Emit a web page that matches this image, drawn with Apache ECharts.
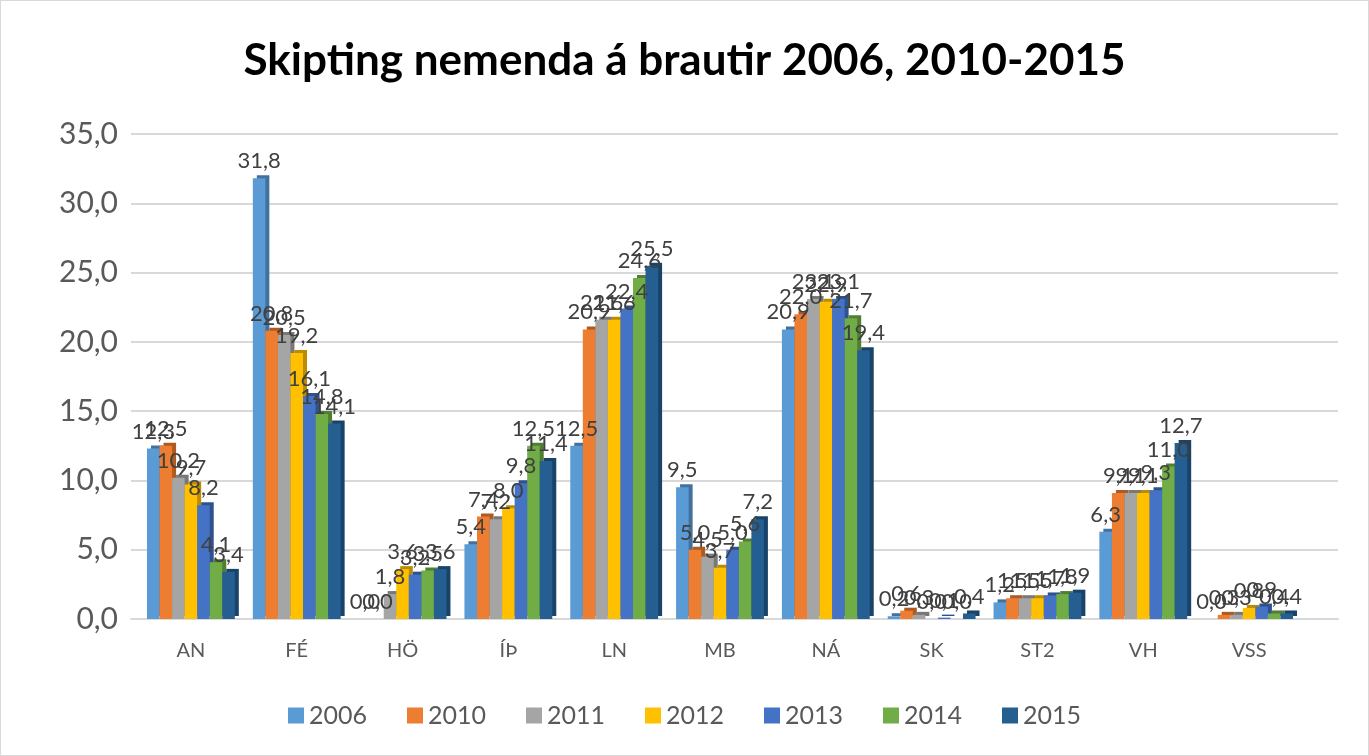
<!DOCTYPE html>
<html>
<head>
<meta charset="utf-8">
<script src="https://cdn.jsdelivr.net/npm/echarts@6/dist/echarts.min.js"></script>
<style>
  body { margin: 0; background: #fff; }
  #chart { width: 1367px; height: 754px; border: 1px solid #d9d9d9; }
</style>
</head>
<body>
<div id="chart"></div>
<script>
var categories = ["AN", "FÉ", "HÖ", "ÍÞ", "LN", "MB", "NÁ", "SK", "ST2", "VH", "VSS"];
var years = ["2006", "2010", "2011", "2012", "2013", "2014", "2015"];
var y2006 = [12.3, 31.8, 0.0, 5.4, 12.5, 9.5, 20.9, 0.2, 1.2, 6.3, 0.0];
var y2010 = [12.5, 20.8, 0.0, 7.4, 20.9, 5.0, 22.0, 0.6, 1.5, 9.1, 0.3];
var y2011 = [10.2, 20.5, 1.8, 7.2, 21.6, 4.5, 23.1, 0.3, 1.5, 9.1, 0.3];
var y2012 = [9.7, 19.2, 3.6, 8.0, 21.6, 3.7, 22.9, 0.0, 1.5, 9.1, 0.8];
var y2013 = [8.2, 16.1, 3.2, 9.8, 22.4, 5.0, 23.1, 0.1, 1.7, 9.3, 0.9];
var y2014 = [4.1, 14.8, 3.5, 12.5, 24.6, 5.6, 21.7, 0.0, 1.8, 11.0, 0.4];
var y2015 = [3.4, 14.1, 3.6, 11.4, 25.5, 7.2, 19.4, 0.4, 1.9, 12.7, 0.4];
var yTicks = [0, 5, 10, 15, 20, 25, 30, 35];

var seriesValues = [y2006, y2010, y2011, y2012, y2013, y2014, y2015];
var colors = ["#5B9BD5", "#ED7D31", "#A5A5A5", "#FFC000", "#4472C4", "#70AD47", "#255E91"];
var sideColors = ["#41719C", "#AE5A21", "#787878", "#BC8C00", "#2F528F", "#507E32", "#1A4369"];

function fmt(v) {
  return v.toFixed(1).replace(".", ",");
}

var series = years.map(function (y, i) {
  return {
    name: y,
    type: "bar",
    data: seriesValues[i],
    barGap: "0%",
    barCategoryGap: "17%",
    z: 3,
    itemStyle: {
      color: colors[i],
      shadowColor: sideColors[i],
      shadowBlur: 0,
      shadowOffsetX: 4,
      shadowOffsetY: -3
    },
    label: {
      show: true,
      position: "top",
      distance: 6,
      color: "#404040",
      fontSize: 22,
      fontFamily: "Lato",
      formatter: function (p) { return fmt(p.value); }
    }
  };
});

var myChart = echarts.init(document.getElementById("chart"));
var option = {
  animation: false,
  color: colors,
  title: {
    text: "Skipting nemenda á brautir 2006, 2010-2015",
    left: "center",
    top: 33,
    textStyle: {
      fontFamily: "Lato",
      fontWeight: "bold",
      fontSize: 44,
      color: "#000"
    }
  },
  legend: {
    data: years,
    bottom: 22,
    left: "center",
    itemWidth: 16,
    itemHeight: 16,
    itemGap: 40,
    icon: "rect",
    textStyle: { fontFamily: "Lato", fontSize: 25, color: "#595959" }
  },
  grid: [
    { left: 137, right: 66, top: 133, bottom: 136 },
    { left: 130, right: 30, top: 133, bottom: 136 }
  ],
  xAxis: [
    {
      type: "category",
      data: categories,
      gridIndex: 0,
      axisLine: { show: false },
      axisTick: { show: false },
      axisLabel: { fontFamily: "Lato", fontSize: 20, color: "#595959", margin: 22 }
    },
    {
      type: "value",
      gridIndex: 1,
      min: 0,
      max: 1,
      axisLine: { show: true, lineStyle: { color: "#d9d9d9", width: 2 } },
      axisTick: { show: false },
      axisLabel: { show: false },
      splitLine: { show: false }
    }
  ],
  yAxis: [
    {
      type: "value",
      gridIndex: 0,
      min: yTicks[0],
      max: yTicks[yTicks.length - 1],
      interval: 5,
      axisLine: { show: false },
      axisTick: { show: false },
      splitLine: { show: false },
      axisLabel: {
        fontFamily: "Lato",
        fontSize: 30,
        color: "#595959",
        margin: 20,
        formatter: function (v) { return fmt(v); }
      }
    },
    {
      type: "value",
      gridIndex: 1,
      min: yTicks[0],
      max: yTicks[yTicks.length - 1],
      interval: 5,
      axisLine: { show: false },
      axisTick: { show: false },
      axisLabel: { show: false },
      splitLine: { lineStyle: { color: "#d9d9d9", width: 2 } }
    }
  ],
  series: series
};
myChart.setOption(option);
</script>
</body>
</html>
